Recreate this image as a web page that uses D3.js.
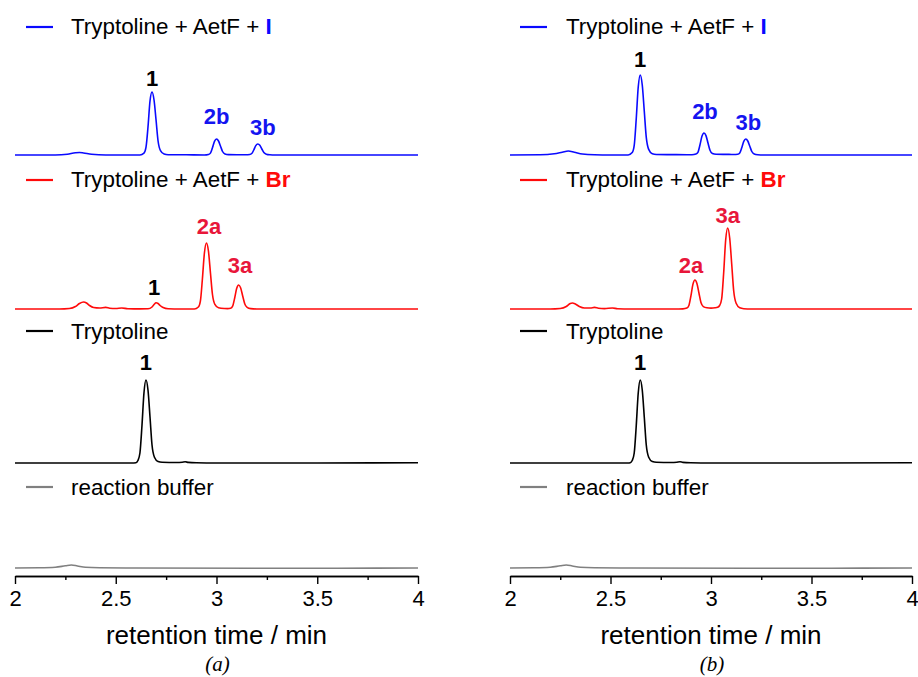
<!DOCTYPE html>
<html>
<head>
<meta charset="utf-8">
<script src="https://cdn.jsdelivr.net/npm/d3@7"></script>
<style>
  body { margin: 0; background: #fff; }
  svg { display: block; font-family: Arial, "Liberation Sans", sans-serif; }
</style>
</head>
<body>
<svg id="chart" width="918" height="677"></svg>
<script>
// retention time (min), intensity (a.u.)
var majorTicks = [2, 2.5, 3, 3.5, 4];
var minorTicks = [2.25, 2.75, 3.25, 3.75];
var traceNames = ["Tryptoline + AetF + ", "Tryptoline + AetF + ", "Tryptoline", "reaction buffer"];
var traceSuffix = ["I", "Br", "", ""];

// panel (a)
var blueA = [[2.00,0],[2.20,0],[2.26,0.8],[2.30,2.2],[2.32,2.5],[2.34,2.0],[2.38,0.7],[2.45,0],[2.60,0],
  [2.62,0],[2.64,1.9],[2.65,7.6],[2.66,28],[2.67,54],[2.68,63],[2.69,55],[2.70,35],[2.71,14],[2.722,4.4],[2.74,1],[2.76,0.3],[2.85,0.2],
  [2.94,0],[2.96,0.5],[2.97,1.9],[2.98,7.2],[2.99,13.6],[3.00,16],[3.01,14],[3.02,8.8],[3.03,3.5],[3.042,1.1],[3.06,0.4],[3.10,0.3],
  [3.145,0.3],[3.165,0.5],[3.175,1.5],[3.185,5],[3.195,9.4],[3.205,11],[3.215,9.7],[3.225,6],[3.235,2.4],[3.247,0.8],[3.265,0.2],[3.29,0],[3.6,0],[4.0,0]];
var redA = [[2.00,0],[2.22,0],[2.27,0.5],[2.30,2.5],[2.32,5.5],[2.34,7],[2.355,6],[2.37,3.5],[2.39,1.5],[2.42,1],[2.45,1.6],[2.47,0.8],[2.50,0.5],[2.53,1],[2.56,0.3],[2.62,0.1],
  [2.66,0.2],[2.68,2],[2.69,4.5],[2.70,6.3],[2.71,5.5],[2.72,3.5],[2.735,1.5],[2.76,0.3],[2.82,0],
  [2.89,0],[2.91,2],[2.92,7.9],[2.93,30],[2.94,56],[2.95,66],[2.96,58],[2.97,36],[2.98,14.5],[2.992,4.6],[3.01,1.2],[3.04,0.5],
  [3.055,0.4],[3.07,0.8],[3.08,2.9],[3.09,10.8],[3.10,20.4],[3.11,24],[3.12,21],[3.13,13],[3.14,5.3],[3.152,1.7],[3.17,0.4],[3.2,0],[3.6,0],[4.0,0]];
var blackA = [[2.00,0],[2.40,0],[2.58,0],[2.60,0.3],[2.61,2.5],[2.62,10],[2.63,37],[2.64,70],[2.65,83],[2.66,73],[2.67,46],[2.68,18],[2.692,5.8],[2.71,1.5],[2.73,0.7],
  [2.80,0.5],[2.83,0.8],[2.845,1.2],[2.86,0.6],[2.90,0.2],[3.0,0],[3.5,0],[4.0,0.2]];
var grayA = [[2.00,0],[2.12,0.2],[2.20,0.8],[2.25,2.2],[2.28,3],[2.31,2],[2.35,0.7],[2.42,0.2],[2.6,0],[3.2,-0.3],[3.6,-0.2],[4.0,0]];

// panel (b)
var blueB = [[2.00,0],[2.15,0.2],[2.22,1.2],[2.26,2.8],[2.29,4],[2.32,2.8],[2.36,1],[2.42,0.2],[2.5,0],
  [2.588,0],[2.608,2.4],[2.618,9.6],[2.628,36],[2.638,68],[2.648,80],[2.658,70],[2.668,44],[2.678,17.6],[2.69,5.6],[2.708,1.2],[2.728,0.5],[2.80,0.4],[2.88,0.3],
  [2.905,0.3],[2.925,0.9],[2.935,2.6],[2.945,10],[2.955,18.7],[2.965,22],[2.975,19.4],[2.985,12],[2.995,4.8],[3.007,1.5],[3.025,0.7],[3.06,0.6],[3.09,0.6],
  [3.113,0.5],[3.133,0.8],[3.143,2],[3.153,7.2],[3.163,13.6],[3.173,16],[3.183,14],[3.193,8.8],[3.203,3.5],[3.215,1.1],[3.233,0.3],[3.26,0],[3.6,0],[4.0,0]];
var redB = [[2.00,0],[2.20,0],[2.25,0.5],[2.28,2.5],[2.30,5.5],[2.31,6],[2.325,5],[2.345,2.5],[2.37,1],[2.40,1],[2.42,1.6],[2.44,0.8],[2.47,0.4],[2.51,1],[2.535,0.3],[2.6,0],[2.84,0],
  [2.86,0.1],[2.88,0.9],[2.89,3.5],[2.90,13],[2.91,24.6],[2.92,29],[2.93,25.5],[2.94,16],[2.95,6.4],[2.962,2.4],[2.98,1.2],[3.00,0.9],[3.02,1.2],
  [3.033,1.8],[3.043,3.5],[3.053,10],[3.063,36],[3.073,69],[3.083,81],[3.093,71],[3.103,45],[3.113,18],[3.125,5.7],[3.143,1.2],[3.163,0.3],[3.2,0],[3.6,0],[4.0,0]];
var blackB = [[2.00,0],[2.40,0],[2.588,0],[2.598,0.3],[2.608,2.5],[2.618,10],[2.628,37],[2.638,70],[2.648,83],[2.658,73],[2.668,46],[2.678,18],[2.69,5.8],[2.708,1.5],[2.728,0.7],
  [2.80,0.5],[2.83,0.8],[2.846,1.2],[2.86,0.6],[2.90,0.2],[3.0,0],[3.5,0],[4.0,0.2]];
var grayB = [[2.00,0],[2.12,0.2],[2.20,0.8],[2.25,2.2],[2.28,3],[2.31,2],[2.35,0.7],[2.42,0.2],[2.6,0],[3.2,-0.3],[3.6,-0.2],[4.0,0]];

// peak labels: trace index, text, t, intensity at label baseline, tone
var labelsA = [[0,"1",2.68,69,"ink"],[0,"2b",3.0,31,"blue"],[0,"3b",3.23,20,"blue"],
  [1,"2a",2.963,75,"red"],[1,"3a",3.117,36,"red"],[1,"1",2.69,14,"ink"],[2,"1",2.65,93,"ink"]];
var labelsB = [[0,"1",2.647,88,"ink"],[0,"2b",2.97,36,"blue"],[0,"3b",3.186,25,"blue"],
  [1,"2a",2.90,36,"red"],[1,"3a",3.083,86,"red"],[2,"1",2.647,93,"ink"]];

var lineColors = ["#0a0aff", "#ff0a0a", "#000000", "#808080"];
var suffixColors = ["#0a0aff", "#ff0a0a"];
var tones = {ink: "#000", blue: "#1414f0", red: "#e8163a"};

var svg = d3.select("#chart");
var baselines = [155, 309, 463, 568];
var legendLineY = [27, 180, 331, 487];
var legendTextY = [34, 187, 339, 495];
var axisY = 576;

function drawPanel(opts) {
  var g = svg.append("g").attr("class", "panel_" + opts.id);
  var x = d3.scaleLinear().domain([2, 4]).range(opts.range);

  // one intensity scale per stacked trace
  var yScales = baselines.map(function(b){
    return d3.scaleLinear().domain([0, 100]).range([b, b - 100]);
  });

  opts.traces.forEach(function(tr, i){
    var line = d3.line()
      .x(d=>x(d[0]))
      .y(d=>yScales[i](d[1]))
      .curve(d3.curveMonotoneX);
    g.append("path")
      .datum(tr)
      .attr("d", line)
      .attr("fill", "none")
      .attr("stroke", lineColors[i])
      .attr("stroke-width", 1.6)
      .attr("stroke-linejoin", "round");

    // legend
    g.append("line")
      .attr("x1", opts.legendX[0]).attr("x2", opts.legendX[1])
      .attr("y1", legendLineY[i]).attr("y2", legendLineY[i])
      .attr("stroke", lineColors[i]).attr("stroke-width", 2.2);
    var txt = g.append("text")
      .attr("x", opts.legendX[2]).attr("y", legendTextY[i])
      .attr("font-size", 22.4).attr("fill", "#000");
    txt.append("tspan").text(traceNames[i]);
    if (traceSuffix[i]) {
      txt.append("tspan").text(traceSuffix[i])
        .attr("font-weight", "bold").attr("fill", suffixColors[i]);
    }
  });

  // peak labels
  g.selectAll("text.peak").data(opts.labels).enter()
    .append("text")
    .attr("class", "peak")
    .attr("x", d=>x(d[2]))
    .attr("y", d=>yScales[d[0]](d[3]))
    .attr("text-anchor", "middle")
    .attr("font-size", 22)
    .attr("font-weight", "bold")
    .attr("fill", d=>tones[d[4]])
    .text(d=>d[1]);

  // x axis
  var axisG = g.append("g").attr("transform", "translate(0," + axisY + ")");
  axisG.call(d3.axisBottom(x).tickValues(majorTicks).tickSize(8).tickSizeOuter(0)
    .tickPadding(6).tickFormat(d3.format("")));
  axisG.append("g").call(d3.axisBottom(x).tickValues(minorTicks).tickSize(4)
    .tickSizeOuter(0).tickFormat(""));
  axisG.selectAll("path.domain").attr("stroke-width", 1.4);
  axisG.selectAll(".tick line").attr("stroke-width", 1.4);
  axisG.selectAll(".tick text").attr("font-size", 22).attr("fill", "#000")
    .attr("font-family", "Arial, 'Liberation Sans', sans-serif");

  var mid = (opts.range[0] + opts.range[1]) / 2;
  g.append("text")
    .attr("x", mid).attr("y", 644)
    .attr("text-anchor", "middle").attr("font-size", 26)
    .text("retention time / min");
  g.append("text")
    .attr("x", mid + 1).attr("y", 671)
    .attr("text-anchor", "middle").attr("font-size", 21)
    .attr("font-family", "'Liberation Serif', 'Times New Roman', serif")
    .attr("font-style", "italic")
    .text("(" + opts.id + ")");
}

drawPanel({id: "a", range: [15, 418], legendX: [26, 53, 71],
  traces: [blueA, redA, blackA, grayA], labels: labelsA});
drawPanel({id: "b", range: [510, 912], legendX: [520, 547, 566],
  traces: [blueB, redB, blackB, grayB], labels: labelsB});
</script>
</body>
</html>
